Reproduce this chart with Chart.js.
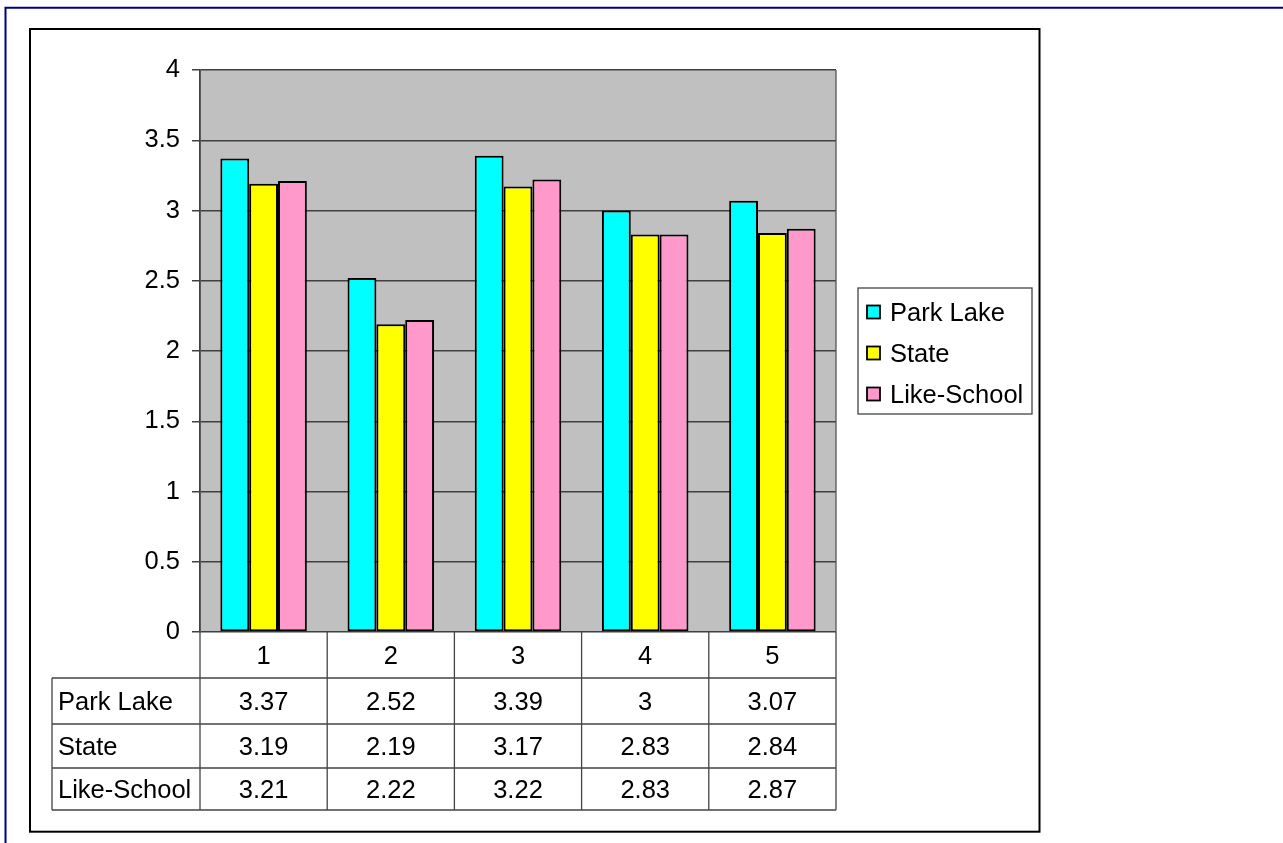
<!DOCTYPE html>
<html><head><meta charset="utf-8">
<script src="https://cdn.jsdelivr.net/npm/chart.js@4"></script>
<style>html,body{margin:0;padding:0;background:#fff;overflow:hidden}canvas{display:block}</style>
</head><body>
<canvas id="c" width="1283" height="843"></canvas>
<script>
const categories = ['1', '2', '3', '4', '5'];
const seriesNames = ['Park Lake', 'State', 'Like-School'];
const parkLake = [3.37, 2.52, 3.39, 3, 3.07];
const state = [3.19, 2.19, 3.17, 2.83, 2.84];
const likeSchool = [3.21, 2.22, 3.22, 2.83, 2.87];
const seriesColors = ['#00FFFF', '#FFFF00', '#FF99CC'];
const yTickLabels = ['0', '0.5', '1', '1.5', '2', '2.5', '3', '3.5', '4'];

const FONT = "'Liberation Sans', Arial, sans-serif";
const FS = 25.5;

const decor = {
  id: 'decor',
  beforeDraw(chart) {
    const ctx = chart.ctx, a = chart.chartArea;
    ctx.save();
    ctx.fillStyle = '#fff';
    ctx.fillRect(0, 0, chart.width, chart.height);
    ctx.fillStyle = '#C0C0C0';
    ctx.fillRect(a.left, a.top, a.right - a.left, a.bottom - a.top);
    ctx.restore();
  },
  afterDraw(chart) {
    const ctx = chart.ctx, a = chart.chartArea;
    const xs = chart.scales.x;
    const n = categories.length;
    const slot = (a.right - a.left) / n;
    const series = [parkLake, state, likeSchool];
    ctx.save();
    // plot area right border
    ctx.strokeStyle = '#555';
    ctx.lineWidth = 1.3;
    ctx.beginPath();
    ctx.moveTo(a.right, a.top); ctx.lineTo(a.right, a.bottom);
    ctx.stroke();

    // data table
    const rowLines = [678, 724, 768, 810];
    const labelLeft = 52;
    ctx.strokeStyle = '#444';
    ctx.lineWidth = 1.3;
    ctx.beginPath();
    rowLines.forEach(y => { ctx.moveTo(labelLeft, y); ctx.lineTo(a.right, y); });
    ctx.moveTo(labelLeft, rowLines[0]); ctx.lineTo(labelLeft, rowLines[3]);
    for (let i = 0; i <= n; i++) {
      const x = a.left + slot * i;
      ctx.moveTo(x, a.bottom); ctx.lineTo(x, rowLines[3]);
    }
    ctx.stroke();

    ctx.fillStyle = '#000';
    ctx.font = FS + 'px ' + FONT;
    ctx.textBaseline = 'alphabetic';
    const catCenter = (a.bottom + rowLines[0]) / 2;
    const rowCenters = [(rowLines[0] + rowLines[1]) / 2, (rowLines[1] + rowLines[2]) / 2, (rowLines[2] + rowLines[3]) / 2];
    const off = 9;
    ctx.textAlign = 'center';
    categories.forEach((c, i) => {
      const x = xs.getPixelForValue(i);
      ctx.fillText(c, x, catCenter + off);
      series.forEach((s, j) => ctx.fillText(String(s[i]), x, rowCenters[j] + off));
    });
    ctx.textAlign = 'left';
    seriesNames.forEach((nm, j) => ctx.fillText(nm, 58, rowCenters[j] + off));

    // legend
    ctx.strokeStyle = '#444';
    ctx.lineWidth = 1.3;
    ctx.strokeRect(858, 288, 174, 126);
    const legY = [312, 353, 394];
    seriesNames.forEach((nm, j) => {
      ctx.fillStyle = seriesColors[j];
      ctx.fillRect(867, legY[j] - 6.5, 13, 13);
      ctx.strokeStyle = '#000';
      ctx.lineWidth = 1.8;
      ctx.strokeRect(867, legY[j] - 6.5, 13, 13);
      ctx.fillStyle = '#000';
      ctx.textAlign = 'left';
      ctx.fillText(nm, 890, legY[j] + off);
    });

    // chart frame
    ctx.strokeStyle = '#000';
    ctx.lineWidth = 2;
    ctx.strokeRect(30, 29, 1009.5, 802.7);
    // outer navy frame (top and left visible)
    ctx.strokeStyle = '#000080';
    ctx.lineWidth = 2;
    ctx.beginPath();
    ctx.moveTo(5.5, chart.height + 5); ctx.lineTo(5.5, 7.8); ctx.lineTo(chart.width + 5, 7.8);
    ctx.stroke();
    ctx.restore();
  }
};

new Chart(document.getElementById('c'), {
  type: 'bar',
  data: {
    labels: categories,
    datasets: [parkLake, state, likeSchool].map((d, i) => ({
      label: seriesNames[i],
      data: d,
      backgroundColor: seriesColors[i],
      borderColor: '#000',
      borderWidth: 2,
      borderSkipped: false,
      categoryPercentage: 0.68,
      barPercentage: 1
    }))
  },
  options: {
    responsive: false,
    devicePixelRatio: 1,
    animation: false,
    layout: { padding: { left: 0, top: 70, right: 447, bottom: 211 } },
    plugins: { legend: { display: false }, tooltip: { enabled: false } },
    scales: {
      x: { display: false },
      y: {
        min: 0, max: 4,
        afterFit(s) { s.width = 200; },
        ticks: {
          stepSize: 0.5,
          padding: 12,
          color: '#000',
          font: { family: FONT, size: FS },
          callback: (v, i) => yTickLabels[i]
        },
        grid: { color: '#404040', lineWidth: 1.5, tickLength: 8, drawTicks: true },
        border: { display: true, color: '#404040', width: 1.8 }
      }
    }
  },
  plugins: [decor]
});
</script>
</body></html>
